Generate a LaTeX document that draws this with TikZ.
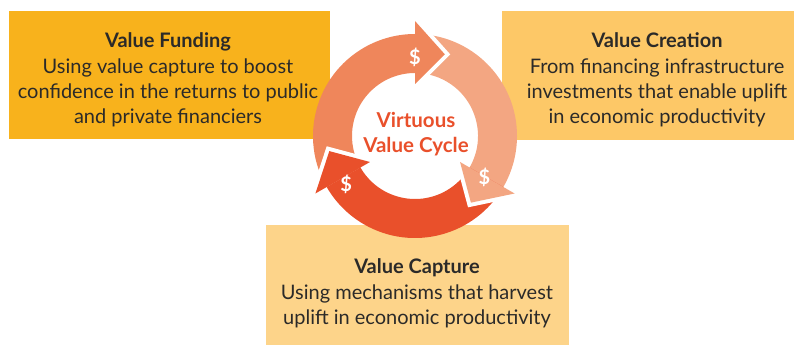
\documentclass[tikz,border=0pt]{standalone}
\usepackage{fontspec}
\setmainfont{Lato}
\usetikzlibrary{calc}
\definecolor{fundcol}{HTML}{F8B21C}
\definecolor{createcol}{HTML}{FDC867}
\definecolor{capturecol}{HTML}{FDD48A}
\definecolor{arrA}{HTML}{EF865B}
\definecolor{arrB}{HTML}{F3A682}
\definecolor{arrC}{HTML}{E9502B}
\definecolor{txt}{HTML}{2B2A29}
\begin{document}
\begin{tikzpicture}[x=1pt,y=1pt,
  bg/.style={draw=none, inner sep=0pt, outer sep=0pt, anchor=south west},
  boxtext/.style={align=center, text=txt, font=\fontsize{20}{25.3}\selectfont, inner sep=0pt},
  dollar/.style={text=white, font=\bfseries\fontsize{20}{20}\selectfont, inner sep=0pt},
  gap/.style={draw=white, line width=8pt, line join=miter},
  centertext/.style={align=center, text=arrC, font=\bfseries\fontsize{20.5}{25}\selectfont, inner sep=0pt},
]
\useasboundingbox (0,0) rectangle (794,345);
% boxes
\node[bg, fill=fundcol, minimum width=321pt, minimum height=128pt] (fundbg) at (9,206) {};
\node[bg, fill=createcol, minimum width=292pt, minimum height=129pt] (createbg) at (502,205) {};
\node[bg, fill=capturecol, minimum width=303pt, minimum height=120pt] (capturebg) at (266,0) {};
\node[boxtext] (fundtxt) at (168,265) {\textbf{Value Funding}\\Using value capture to boost\\confidence in the returns to public\\and private financiers};
\node[boxtext] (createtxt) at (657,265) {\textbf{Value Creation}\\From financing infrastructure\\investments that enable uplift\\in economic productivity};
\node[boxtext] (capturetxt) at (417,51.5) {\textbf{Value Capture}\\Using mechanisms that harvest\\uplift in economic productivity};
% cycle
\coordinate (C) at (415,209);
\begin{scope}[shift={(C)}]
  \fill[arrA] (210:102) arc[start angle=210,end angle=90,radius=102] -- (90:63) arc[start angle=90,end angle=210,radius=63] -- cycle;
  \fill[arrB] (90:102) arc[start angle=90,end angle=-30,radius=102] -- (-30:63) arc[start angle=-30,end angle=90,radius=63] -- cycle;
  \fill[arrC] (330:102) arc[start angle=330,end angle=210,radius=102] -- (210:63) arc[start angle=210,end angle=330,radius=63] -- cycle;
  % heads
  \draw[gap] (90:115) -- (70:87) -- (90:52);
  \fill[arrA] (90:115) -- (70:87) -- (90:52) -- cycle;
  \draw[gap] (-30:115) -- (-50:87) -- (-30:52);
  \fill[arrB] (-30:115) -- (-50:87) -- (-30:52) -- cycle;
  \draw[gap] (210:115) -- (190:87) -- (210:52);
  \fill[arrC] (210:115) -- (190:87) -- (210:52) -- cycle;
  \node[dollar] (d1) at (90:79) {\$};
  \node[dollar] (d2) at (-31:81) {\$};
  \node[dollar] (d3) at (215:84) {\$};
\end{scope}
\node[centertext] (cycletxt) at (416,210.5) {Virtuous\\Value Cycle};
\end{tikzpicture}
\end{document}
